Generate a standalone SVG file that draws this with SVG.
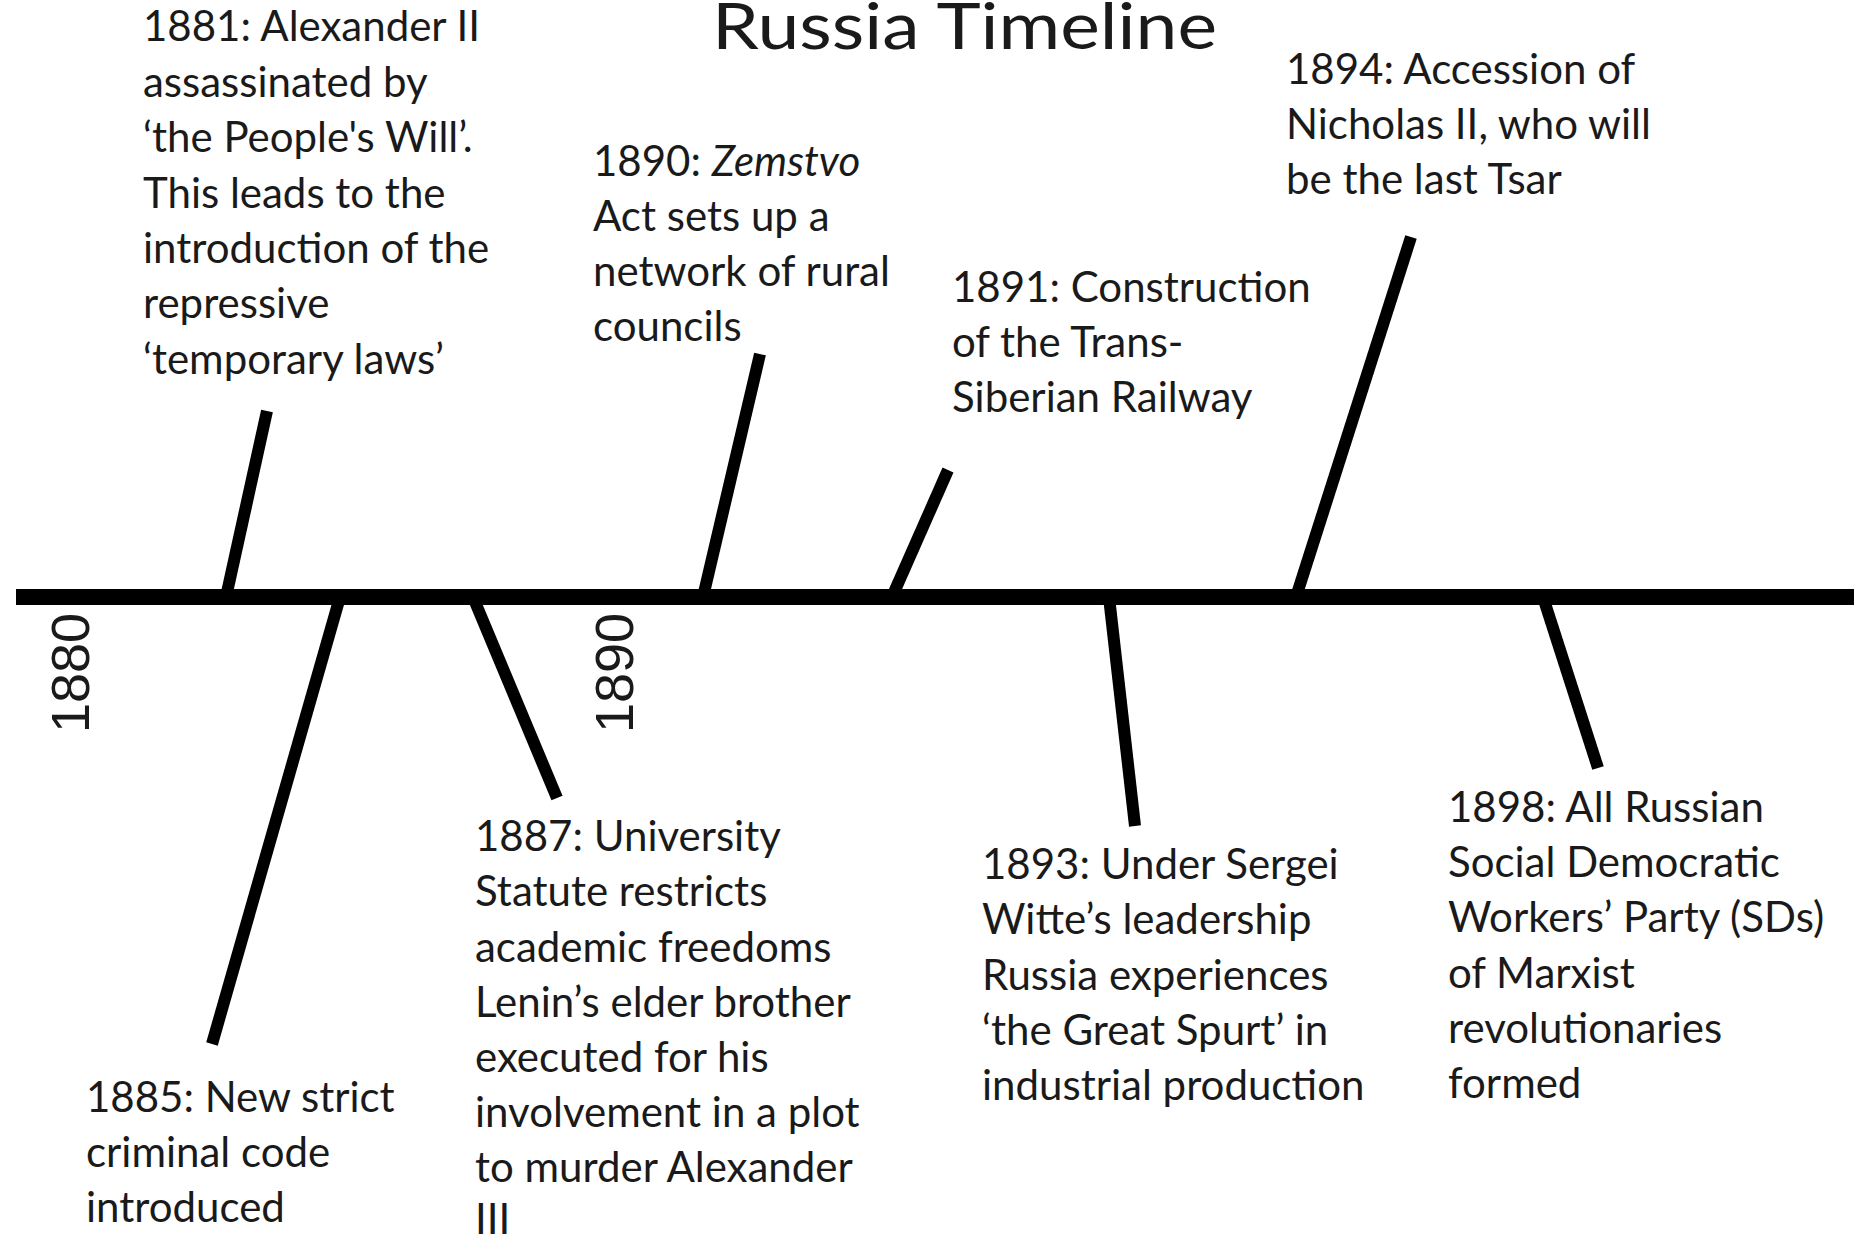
<svg xmlns="http://www.w3.org/2000/svg" width="1854" height="1240" viewBox="0 0 1854 1240">
<style>
.t{font-family:Lato,"Noto Sans",sans-serif;font-size:42px;fill:#1a1a1a}
.title{font-family:Lato,"Noto Sans",sans-serif;font-size:64px;fill:#1a1a1a}
.yr{font-family:"Liberation Sans",Arial,sans-serif;font-size:54px;fill:#1a1a1a}
.ln{stroke:#000;stroke-width:12;fill:none}
</style>
<rect width="1854" height="1240" fill="#fff"/>
<g id="title"><text class="title" x="712" y="49" textLength="505" lengthAdjust="spacingAndGlyphs">Russia Timeline</text></g>
<g id="connectors">
<line x1="16" y1="597" x2="1854" y2="597" stroke="#000" stroke-width="16"/>
<line class="ln" x1="226" y1="597" x2="267" y2="411"/>
<line class="ln" x1="703" y1="597" x2="760" y2="354"/>
<line class="ln" x1="892" y1="597" x2="948" y2="470"/>
<line class="ln" x1="1296" y1="597" x2="1411" y2="237"/>
<line class="ln" x1="340" y1="597" x2="212" y2="1044"/>
<line class="ln" x1="473" y1="597" x2="557" y2="798"/>
<line class="ln" x1="1109" y1="597" x2="1135" y2="826"/>
<line class="ln" x1="1543" y1="597" x2="1598" y2="768"/>
</g>
<g id="year-1880"><text class="yr" transform="translate(89,733) rotate(-90)">1880</text></g>
<g id="year-1890"><text class="yr" transform="translate(633,733) rotate(-90)">1890</text></g>
<g id="event-1881"><text class="t"><tspan x="143" y="41">1881: Alexander II</tspan><tspan x="143" y="97">assassinated by</tspan><tspan x="143" y="152">‘the People's Will’.</tspan><tspan x="143" y="208">This leads to the</tspan><tspan x="143" y="263">introduction of the</tspan><tspan x="143" y="318">repressive</tspan><tspan x="143" y="374">‘temporary laws’</tspan></text></g>
<g id="event-1890"><text class="t"><tspan x="593" y="176">1890: <tspan font-style="italic">Zemstvo</tspan></tspan><tspan x="593" y="231">Act sets up a</tspan><tspan x="593" y="286">network of rural</tspan><tspan x="593" y="341">councils</tspan></text></g>
<g id="event-1891"><text class="t"><tspan x="952" y="302">1891: Construction</tspan><tspan x="952" y="357">of the Trans-</tspan><tspan x="952" y="412">Siberian Railway</tspan></text></g>
<g id="event-1894"><text class="t"><tspan x="1286" y="84">1894: Accession of</tspan><tspan x="1286" y="139">Nicholas II, who will</tspan><tspan x="1286" y="194">be the last Tsar</tspan></text></g>
<g id="event-1885"><text class="t"><tspan x="86" y="1112">1885: New strict</tspan><tspan x="86" y="1167">criminal code</tspan><tspan x="86" y="1222">introduced</tspan></text></g>
<g id="event-1887"><text class="t"><tspan x="475" y="851">1887: University</tspan><tspan x="475" y="906">Statute restricts</tspan><tspan x="475" y="962">academic freedoms</tspan><tspan x="475" y="1017">Lenin’s elder brother</tspan><tspan x="475" y="1072">executed for his</tspan><tspan x="475" y="1127">involvement in a plot</tspan><tspan x="475" y="1182">to murder Alexander</tspan><tspan x="475" y="1234">III</tspan></text></g>
<g id="event-1893"><text class="t"><tspan x="982" y="879">1893: Under Sergei</tspan><tspan x="982" y="934">Witte’s leadership</tspan><tspan x="982" y="990">Russia experiences</tspan><tspan x="982" y="1045">‘the Great Spurt’ in</tspan><tspan x="982" y="1100">industrial production</tspan></text></g>
<g id="event-1898"><text class="t"><tspan x="1448" y="822">1898: All Russian</tspan><tspan x="1448" y="877">Social Democratic</tspan><tspan x="1448" y="932">Workers’ Party (SDs)</tspan><tspan x="1448" y="988">of Marxist</tspan><tspan x="1448" y="1043">revolutionaries</tspan><tspan x="1448" y="1098">formed</tspan></text></g>
</svg>
